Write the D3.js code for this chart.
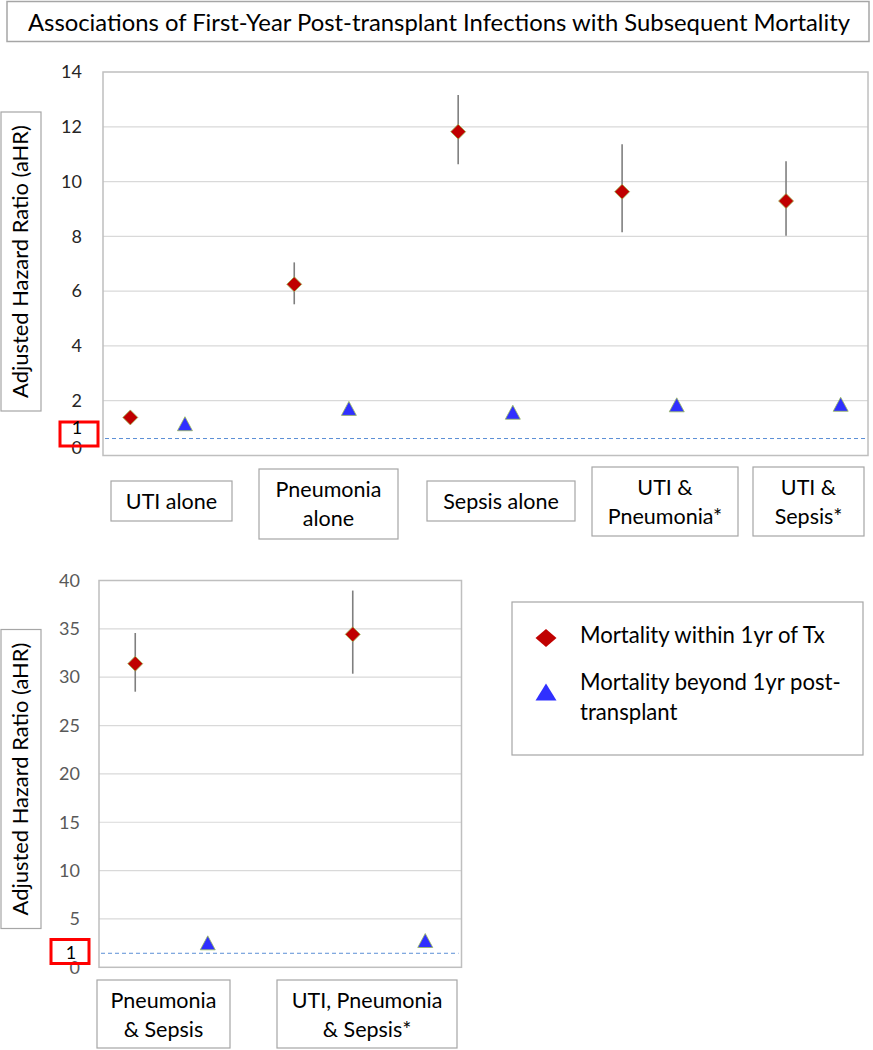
<!DOCTYPE html>
<html>
<head>
<meta charset="utf-8">
<script src="https://cdn.jsdelivr.net/npm/d3@7"></script>
<style>
  html, body { margin: 0; padding: 0; background: #fff; }
  svg { display: block; font-family: Lato, "Open Sans", sans-serif; }
</style>
</head>
<body>
<svg id="chart" width="873" height="1050"></svg>
<script>
// ---------------- DATA ----------------
const titleText = "Associations of First-Year Post-transplant Infections with Subsequent Mortality";
const yAxisTitle = "Adjusted Hazard Ratio (aHR)";
const seriesNames = ["Mortality within 1yr of Tx", "Mortality beyond 1yr post-transplant"];

// Upper panel
const topCategories = ["UTI alone", "Pneumonia alone", "Sepsis alone", "UTI & Pneumonia*", "UTI & Sepsis*"];
const topLabelLines = [["UTI alone"], ["Pneumonia", "alone"], ["Sepsis alone"], ["UTI &", "Pneumonia*"], ["UTI &", "Sepsis*"]];
const topWithin   = [1.39, 6.25, 11.82, 9.63, 9.29];
const topWithinLo = [null, 5.52, 10.63, 8.15, 8.02];
const topWithinHi = [null, 7.05, 13.16, 11.36, 10.74];
const topBeyond   = [1.16, 1.72, 1.58, 1.85, 1.87];
const topTicks    = [0, 2, 4, 6, 8, 10, 12, 14];
const topRefLine  = 0.62;

// Lower panel
const botCategories = ["Pneumonia & Sepsis", "UTI, Pneumonia & Sepsis*"];
const botLabelLines = [["Pneumonia", "& Sepsis"], ["UTI, Pneumonia", "& Sepsis*"]];
const botWithin   = [31.4, 34.43];
const botWithinLo = [28.5, 30.36];
const botWithinHi = [34.57, 38.96];
const botBeyond   = [2.53, 2.77];
const botTicks    = [0, 5, 10, 15, 20, 25, 30, 35, 40];
const botRefLine  = 1.45;

// ---------------- LAYOUT ----------------
const FONT = "Lato, 'Open Sans', sans-serif";
const C = {
  diamond: "#c00000", triangle: "#3030ff", markerStroke: "#9bbb59",
  err: "#7f7f7f", grid: "#d9d9d9", frame: "#bfbfbf", box: "#a6a6a6",
  ref: "#5b8fd6", red: "#ff0000"
};

const svg = d3.select("#chart");
svg.append("rect").attr("width", 873).attr("height", 1050).attr("fill", "#fff");

function fitWidth(sel, target) {
  const w = sel.node().getComputedTextLength();
  const fs = parseFloat(sel.attr("font-size"));
  sel.attr("font-size", (fs * target / w).toFixed(2));
}
const diamondPath = (w, h) => `M0,${-h/2}L${w/2},0L0,${h/2}L${-w/2},0Z`;
const trianglePath = (w, h) => `M0,${-h/2}L${w/2},${h/2}L${-w/2},${h/2}Z`;

// ---------------- TITLE ----------------
svg.append("rect").attr("x", 7).attr("y", 1.5).attr("width", 862).attr("height", 40)
  .attr("fill", "#fff").attr("stroke", C.box).attr("stroke-width", 1.5);
const t = svg.append("text").attr("x", 439).attr("y", 31).attr("text-anchor", "middle")
  .attr("font-size", 19).attr("fill", "#000").text(titleText);
fitWidth(t, 822);

// ---------------- PANEL BUILDER ----------------
function panel(cfg) {
  const { cats, within, lo, hi, beyond, ticks, ref, plot, tickPad, tickColor, labelBoxes, lines, oneBox, yBox } = cfg;
  const slots = [];
  cats.forEach((c, i) => {
    slots.push(c + "|w", c + "|b");
    if (i < cats.length - 1) slots.push(c + "|gap");
  });
  const x = d3.scaleBand().domain(slots).range([plot.x0, plot.x1]).padding(0);
  const cx = k => x(k) + x.bandwidth() / 2;
  const y = d3.scaleLinear().domain([0, d3.max(ticks)]).range([plot.y0, plot.y1]);
  const g = svg.append("g");

  // gridlines
  g.selectAll("line.grid").data(ticks.filter(v => v > 0 && v < d3.max(ticks))).join("line")
    .attr("x1", plot.x0).attr("x2", plot.x1)
    .attr("y1", d => y(d)).attr("y2", d => y(d))
    .attr("stroke", C.grid).attr("stroke-width", 1.2);

  // frame
  g.append("rect").attr("x", plot.x0).attr("y", y(d3.max(ticks)))
    .attr("width", plot.x1 - plot.x0).attr("height", y(0) - y(d3.max(ticks)))
    .attr("fill", "none").attr("stroke", C.frame).attr("stroke-width", 1.5);

  // reference line
  g.append("line").attr("x1", plot.x0 + 2).attr("x2", plot.x1 - 3)
    .attr("y1", y(ref)).attr("y2", y(ref))
    .attr("stroke", C.ref).attr("stroke-width", 1).attr("stroke-dasharray", "4,3");

  // axis
  const ax = g.append("g").attr("transform", `translate(${plot.x0},0)`)
    .call(d3.axisLeft(y).tickValues(ticks).tickSize(0).tickPadding(tickPad).tickFormat(d3.format("d")));
  ax.select(".domain").remove();
  ax.attr("font-size", null).attr("font-family", null);
  ax.selectAll("text").attr("font-family", FONT).style("font-size", "18px").attr("fill", tickColor);
  if (cfg.zeroShift) ax.selectAll(".tick").filter(d => d === 0).select("text").attr("y", cfg.zeroShift);

  // error bars
  const eb = cats.map((c, i) => ({ k: c + "|w", lo: lo[i], hi: hi[i] })).filter(d => d.lo != null);
  g.selectAll("line.err").data(eb).join("line")
    .attr("x1", d => cx(d.k)).attr("x2", d => cx(d.k))
    .attr("y1", d => y(d.hi)).attr("y2", d => y(d.lo))
    .attr("stroke", C.err).attr("stroke-width", 1.6);

  // diamonds
  g.selectAll("path.dia").data(cats.map((c, i) => ({ k: c + "|w", v: within[i] }))).join("path")
    .attr("d", diamondPath(15, 15))
    .attr("transform", d => `translate(${cx(d.k)},${y(d.v)})`)
    .attr("fill", C.diamond).attr("stroke", C.markerStroke).attr("stroke-width", 0.8);

  // triangles
  g.selectAll("path.tri").data(cats.map((c, i) => ({ k: c + "|b", v: beyond[i] }))).join("path")
    .attr("d", trianglePath(15, 14))
    .attr("transform", d => `translate(${cx(d.k)},${y(d.v)})`)
    .attr("fill", C.triangle).attr("stroke", C.markerStroke).attr("stroke-width", 0.8);

  // "1" annotation box
  g.append("rect").attr("x", oneBox.x).attr("y", oneBox.y).attr("width", oneBox.w).attr("height", oneBox.h)
    .attr("fill", "none").attr("stroke", C.red).attr("stroke-width", 3);
  g.append("text").attr("x", oneBox.tx).attr("y", oneBox.ty).attr("text-anchor", "middle")
    .style("font-size", "18px").attr("fill", "#000").text("1");

  // y-axis title box
  g.append("rect").attr("x", yBox.x).attr("y", yBox.y).attr("width", yBox.w).attr("height", yBox.h)
    .attr("fill", "#fff").attr("stroke", C.box).attr("stroke-width", 1.2);
  const yt = g.append("text")
    .attr("transform", `translate(${yBox.x + yBox.w / 2 + 7},${yBox.y + yBox.h / 2}) rotate(-90)`)
    .attr("text-anchor", "middle").attr("font-size", 18).attr("fill", "#000").text(yAxisTitle);
  fitWidth(yt, 273);

  // category label boxes
  labelBoxes.forEach((b, i) => {
    g.append("rect").attr("x", b.x).attr("y", b.y).attr("width", b.w).attr("height", b.h)
      .attr("fill", "#fff").attr("stroke", C.box).attr("stroke-width", 1.2);
    const tx = g.append("text").attr("text-anchor", "middle").attr("font-size", 21.5).attr("fill", "#000");
    lines[i].forEach((ln, j) => {
      tx.append("tspan").attr("x", b.x + b.w / 2).attr("y", b.y + 27.5 + j * 29).text(ln);
    });
  });
  return { x, y };
}

panel({
  cats: topCategories, within: topWithin, lo: topWithinLo, hi: topWithinHi, beyond: topBeyond,
  ticks: topTicks, ref: topRefLine,
  plot: { x0: 103, x1: 868, y0: 455.5, y1: 72 },
  tickPad: 21, tickColor: "#262626", zeroShift: -8,
  lines: topLabelLines,
  labelBoxes: [
    { x: 111, y: 481, w: 121, h: 40 },
    { x: 259, y: 469, w: 139, h: 70 },
    { x: 427, y: 481, w: 148, h: 40 },
    { x: 592, y: 467, w: 146, h: 69 },
    { x: 753, y: 467, w: 111, h: 69 }
  ],
  oneBox: { x: 60, y: 422, w: 38, h: 24, tx: 77, ty: 433.5 },
  yBox: { x: 1, y: 112, w: 40, h: 299 }
});

panel({
  cats: botCategories, within: botWithin, lo: botWithinLo, hi: botWithinHi, beyond: botBeyond,
  ticks: botTicks, ref: botRefLine,
  plot: { x0: 99, x1: 461.5, y0: 967.3, y1: 580.5 },
  tickPad: 19, tickColor: "#595959",
  lines: botLabelLines,
  labelBoxes: [
    { x: 97, y: 980, w: 133, h: 68 },
    { x: 277, y: 980, w: 180, h: 68 }
  ],
  oneBox: { x: 51, y: 939.5, w: 38, h: 24, tx: 71, ty: 959 },
  yBox: { x: 1, y: 629.5, w: 40, h: 299 }
});

// ---------------- LEGEND ----------------
const lg = svg.append("g");
lg.append("rect").attr("x", 512).attr("y", 602).attr("width", 351).attr("height", 153)
  .attr("fill", "#fff").attr("stroke", C.box).attr("stroke-width", 1.2);
lg.append("path").attr("d", diamondPath(21, 18)).attr("transform", "translate(546,638)").attr("fill", C.diamond);
lg.append("path").attr("d", trianglePath(21, 17)).attr("transform", "translate(546,692)").attr("fill", C.triangle);
const l1 = lg.append("text").attr("x", 580).attr("y", 643).attr("font-size", 20).attr("fill", "#000").text(seriesNames[0]);
fitWidth(l1, 245);
const fsL = l1.attr("font-size");
const l2 = lg.append("text").attr("font-size", fsL).attr("fill", "#000");
l2.append("tspan").attr("x", 580).attr("y", 690).text("Mortality beyond 1yr post-");
l2.append("tspan").attr("x", 580).attr("y", 720).text("transplant");
</script>
</body>
</html>
